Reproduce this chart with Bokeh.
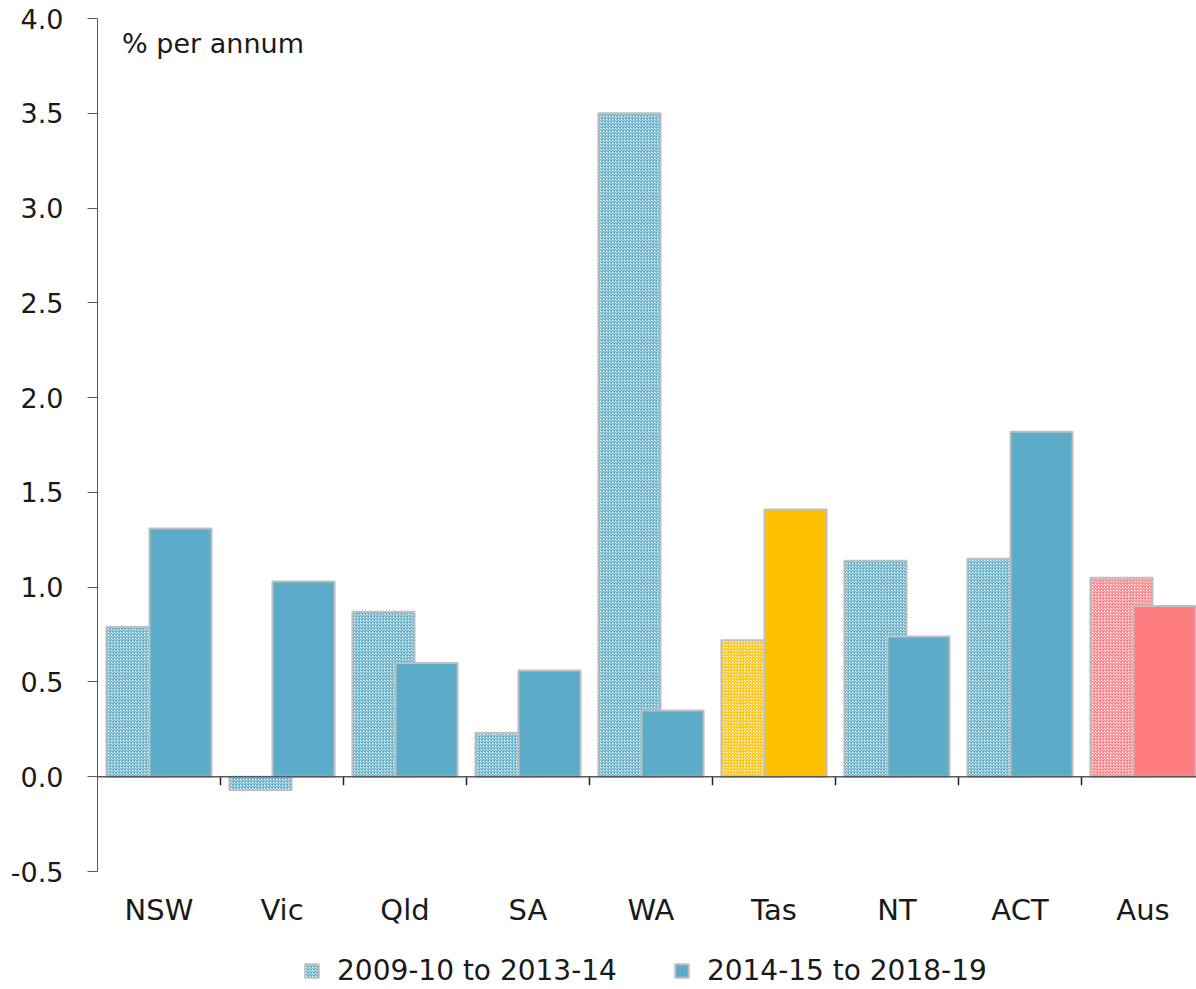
from bokeh.plotting import figure
from bokeh.layouts import column
from bokeh.models import (ColumnDataSource, Range1d, FixedTicker, Span, Label,
                          Legend, LegendItem, PrintfTickFormatter)
from bokeh.embed import file_html
from bokeh.resources import INLINE

# ---- data ----
categories = ["NSW", "Vic", "Qld", "SA", "WA", "Tas", "NT", "ACT", "Aus"]
period1 = [0.79, -0.07, 0.87, 0.23, 3.50, 0.72, 1.14, 1.15, 1.05]   # 2009-10 to 2013-14
period2 = [1.31, 1.03, 0.60, 0.56, 0.35, 1.41, 0.74, 1.82, 0.90]    # 2014-15 to 2018-19
series_names = ["2009-10 to 2013-14", "2014-15 to 2018-19"]
y_ticks = [-0.5, 0.0, 0.5, 1.0, 1.5, 2.0, 2.5, 3.0, 3.5, 4.0]

# ---- styles ----
BLUE = "#5BACC8"
GOLD = "#FFC000"
PINK = "#FF7C80"
special = {"Tas": GOLD, "Aus": PINK}
colors = [special.get(c, BLUE) for c in categories]
FONT = "DejaVu Sans"
AXIS_COL = "#595959"
TXT = "#1a1a1a"
HATCH = dict(hatch_pattern="x", hatch_scale=3.0, hatch_weight=1.5)
OUTLINE = dict(line_color="#BFBFBF", line_width=2)

idx = list(range(len(categories)))
src = ColumnDataSource(dict(
    x1=[i + 0.325 for i in idx],
    x2=[i + 0.675 for i in idx],
    p1=period1, p2=period2, color=colors,
))

p = figure(frame_width=1099, frame_height=853, output_backend="svg", toolbar_location=None,
           x_range=Range1d(0, 1099 / 123), y_range=Range1d(-0.5, 4.0),
           min_border_left=97, min_border_right=0, min_border_top=18,
           min_border_bottom=56)
p.outline_line_color = None
p.xgrid.visible = False
p.ygrid.visible = False

p.vbar(x="x1", top="p1", bottom=0, width=0.505, source=src,
       fill_color="white", hatch_color="color", **HATCH, **OUTLINE)
p.vbar(x="x2", top="p2", bottom=0, width=0.505, source=src,
       fill_color="color", **OUTLINE)

# zero line with category boundary ticks
p.add_layout(Span(location=0, dimension="width", line_color=AXIS_COL, line_width=1.5))
bounds = idx[1:]
p.segment(x0=bounds, y0=[0] * len(bounds), x1=bounds, y1=[-0.045] * len(bounds),
          line_color="#222222", line_width=1.5)

# y axis
ya = p.yaxis[0]
ya.ticker = FixedTicker(ticks=y_ticks)
ya.formatter = PrintfTickFormatter(format="%.1f")
ya.axis_line_color = AXIS_COL
ya.major_tick_line_color = AXIS_COL
ya.major_tick_out = 10
ya.major_tick_in = 0
ya.minor_tick_line_color = None
ya.major_label_standoff = 24
ya.major_label_text_font = FONT
ya.major_label_text_font_size = "27px"
ya.major_label_text_color = TXT

# x axis (labels only)
xa = p.xaxis[0]
xa.ticker = FixedTicker(ticks=[i + 0.5 for i in idx])
xa.major_label_overrides = {i + 0.5: c for i, c in zip(idx, categories)}
xa.axis_line_color = None
xa.major_tick_line_color = None
xa.minor_tick_line_color = None
xa.major_label_standoff = 15
xa.major_label_text_font = FONT
xa.major_label_text_font_size = "29px"
xa.major_label_text_color = TXT

p.add_layout(Label(x=0.2, y=3.95, text="% per annum", text_baseline="top",
                   text_font=FONT, text_font_size="27px", text_color=TXT))

# legend strip below the chart; its swatch renderers sit fully outside the visible range
pl = figure(width=1196, height=58, output_backend="svg", toolbar_location=None,
            x_range=Range1d(0, 1), y_range=Range1d(0, 1),
            min_border_left=0, min_border_right=0, min_border_top=0, min_border_bottom=0)
pl.axis.visible = False
pl.xgrid.visible = False
pl.ygrid.visible = False
pl.outline_line_color = None
l1 = pl.vbar(x=[-5], top=[-5], bottom=-6, width=0.5, fill_color="white", hatch_color=BLUE,
             **HATCH, **OUTLINE)
l2 = pl.vbar(x=[-5], top=[-5], bottom=-6, width=0.5, fill_color=BLUE, **OUTLINE)
legend = Legend(items=[LegendItem(label=series_names[0], renderers=[l1]),
                       LegendItem(label=series_names[1], renderers=[l2])],
                orientation="horizontal", location=(206, 0),
                label_text_font=FONT, label_text_font_size="28px",
                label_text_color=TXT,
                glyph_width=17, glyph_height=17, label_standoff=17, spacing=56,
                padding=0, margin=0, border_line_alpha=0, background_fill_alpha=0)
pl.add_layout(legend, "center")

layout = column(p, pl, spacing=0)
open("out.html", "w").write(file_html(layout, INLINE))
